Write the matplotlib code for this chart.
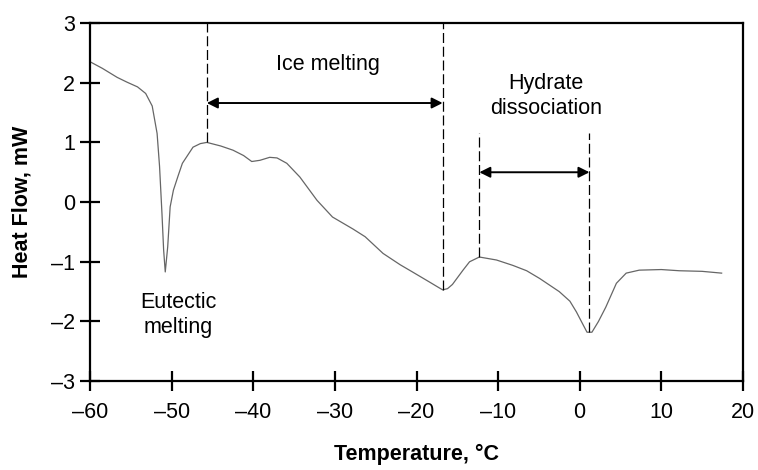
import matplotlib
matplotlib.use("Agg")
import matplotlib.pyplot as plt

plt.rcParams['font.family'] = ['Liberation Sans', 'DejaVu Sans']

# DSC curve data (temperature in °C, heat flow in mW)
temp = [-60, -58.5, -56.7, -55.5, -54.2, -53.2, -52.4, -51.8, -51.5, -51.2, -51.0, -50.8,
        -50.5, -50.2, -49.8, -49.2, -48.7, -47.4, -46.5, -45.7, -44.0, -42.5, -41.2,
        -40.2, -39.2, -38.0, -37.1, -35.9, -34.3, -32.2, -30.3, -27.8, -26.3, -24.1,
        -22.0, -20.5, -18.4, -17.3, -16.8, -16.2, -15.6, -14.3, -13.5, -12.3, -10.2,
        -8.2, -6.5, -4.9, -2.5, -1.2, -0.4, 0.4, 0.9, 1.5, 2.3, 3.2, 4.5, 5.7, 7.3,
        10.0, 12.2, 15.0, 17.4]
heat = [2.35, 2.24, 2.09, 2.01, 1.93, 1.82, 1.61, 1.15, 0.6, -0.2, -0.8, -1.17,
        -0.75, -0.08, 0.2, 0.45, 0.65, 0.92, 0.98, 1.0, 0.94, 0.87, 0.78,
        0.68, 0.70, 0.75, 0.74, 0.65, 0.42, 0.03, -0.25, -0.45, -0.58, -0.86,
        -1.05, -1.17, -1.34, -1.43, -1.47, -1.45, -1.38, -1.14, -1.0, -0.92, -0.97,
        -1.06, -1.15, -1.28, -1.5, -1.66, -1.84, -2.05, -2.18, -2.18, -2.0, -1.76,
        -1.36, -1.19, -1.14, -1.13, -1.15, -1.16, -1.19]

# annotation markers
vline_x = [-45.7, -16.8, -12.3, 1.2]
vline_y0 = [1.0, -1.47, -0.92, -2.18]
vline_y1 = [3.0, 3.0, 1.15, 1.15]
ice_arrow = (-45.7, -16.8, 1.66)
hyd_arrow = (-12.3, 1.2, 0.5)

xticks = [-60, -50, -40, -30, -20, -10, 0, 10, 20]
yticks = [-3, -2, -1, 0, 1, 2, 3]

fig = plt.figure(figsize=(7.58, 4.70), dpi=100)
ax = fig.add_axes([0.119, 0.189, 0.861, 0.762])

ax.plot(temp, heat, color='#666666', lw=0.9)

for x, y0, y1 in zip(vline_x, vline_y0, vline_y1):
    ax.plot([x, x], [y0, y1], color='black', lw=0.9, ls=(0, (8, 3)))

for x0, x1, y in [ice_arrow, hyd_arrow]:
    ax.annotate('', xy=(x1, y), xytext=(x0, y),
                arrowprops=dict(arrowstyle='<|-|>', color='black', lw=1.4,
                                mutation_scale=16, shrinkA=0, shrinkB=0))

ax.text(-30.9, 2.3, 'Ice melting', ha='center', va='center', fontsize=15.5)
ax.text(-4.1, 1.77, 'Hydrate\ndissociation', ha='center', va='center',
        fontsize=15.5, linespacing=1.25)
ax.text(-49.2, -1.89, 'Eutectic\nmelting', ha='center', va='center',
        fontsize=15.5, linespacing=1.25)

ax.set_xlim(-60, 20)
ax.set_ylim(-3, 3)
ax.set_xticks(xticks)
ax.set_yticks(yticks)
ax.set_xticklabels([str(t).replace('-', '\u2013') for t in xticks])
ax.set_yticklabels([str(t).replace('-', '\u2013') for t in yticks])
ax.tick_params(direction='inout', length=14, width=1.6, labelsize=15.5)
ax.tick_params(axis='x', pad=8)
ax.tick_params(axis='y', pad=4)
for s in ax.spines.values():
    s.set_linewidth(1.6)

ax.set_xlabel('Temperature, \u00b0C', fontsize=15.5, fontweight='bold', labelpad=15)
ax.set_ylabel('Heat Flow, mW', fontsize=15.5, fontweight='bold', labelpad=13)

fig.savefig('out.png', dpi=100)
